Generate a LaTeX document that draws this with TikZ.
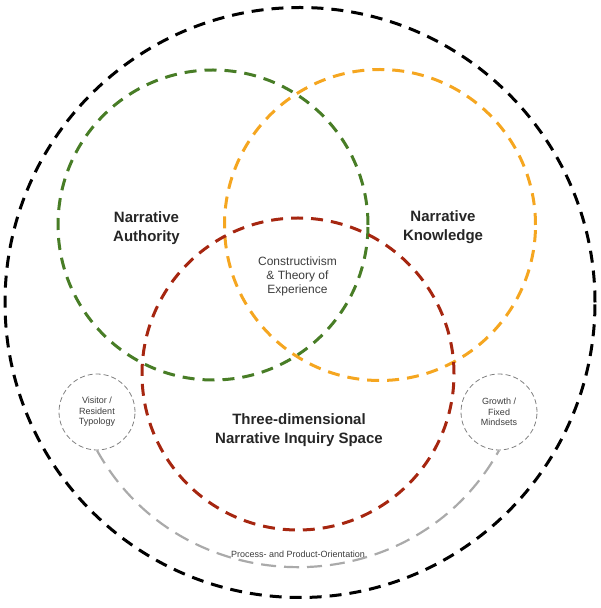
\documentclass[tikz,border=0pt]{standalone}
\usepackage{fontspec}
\setmainfont{Liberation Sans}
\usepackage{xcolor}
\usetikzlibrary{positioning,calc}
\definecolor{authgreen}{RGB}{72,125,38}
\definecolor{knoworange}{RGB}{245,166,32}
\definecolor{spacered}{RGB}{166,38,16}
\definecolor{arcgray}{RGB}{170,170,170}
\definecolor{textgray}{RGB}{60,60,60}

\begin{document}
\begin{tikzpicture}[
    x=1pt, y=1pt,
    ring/.style={circle, draw=#1, line width=3pt, dash pattern=on 12pt off 8pt, inner sep=0pt},
    minor/.style={circle, draw=gray, line width=0.8pt, dash pattern=on 5pt off 3pt, minimum size=76pt, inner sep=0pt,
        align=center, text=textgray, font=\fontsize{9}{10.5}\selectfont},
    bigtext/.style={align=center, text=black!85, font=\fontsize{15}{19}\selectfont\bfseries},
    smalltext/.style={align=center, text=textgray, font=\fontsize{9}{10.5}\selectfont},
    link/.style={draw=arcgray, line width=2.2pt, dash pattern=on 15pt off 8pt}
]
    \useasboundingbox (0,0) rectangle (600,608);

    % Outer circle
    \node[ring=black, minimum size=590pt] (outer) at (300,305.5) {};

    % Three overlapping circles
    \node[ring=authgreen, minimum size=310pt] (authority) at (213,383) {};
    \node[ring=knoworange, minimum size=311pt] (knowledge) at (380,383) {};
    \node[ring=spacered, minimum size=312pt] (inquiry) at (298,234) {};

    % Labels
    \node[bigtext] (authlabel) at (146.5,380) {Narrative\\Authority};
    \node[bigtext] (knowlabel) at (443,381) {Narrative\\Knowledge};
    \node[bigtext] (spacelabel) at (299,178) {Three-dimensional\\Narrative Inquiry Space};
    \node[align=center, text=textgray, font=\fontsize{12}{14}\selectfont] (core) at (297.5,332) {Constructivism\\\& Theory of\\Experience};

    % Small circles
    \node[minor] (visitor) at (97,196) {Visitor /\\Resident\\Typology};
    \node[minor] (growth) at (499,196) {Growth /\\Fixed\\Mindsets};

    % Arc between them
    \draw[link] (visitor.south) .. controls +(-61:178) and +(-119:178) .. (growth.south)
        node[midway, above=5pt, smalltext] (orient) {Process- and Product-Orientation};
\end{tikzpicture}
\end{document}
